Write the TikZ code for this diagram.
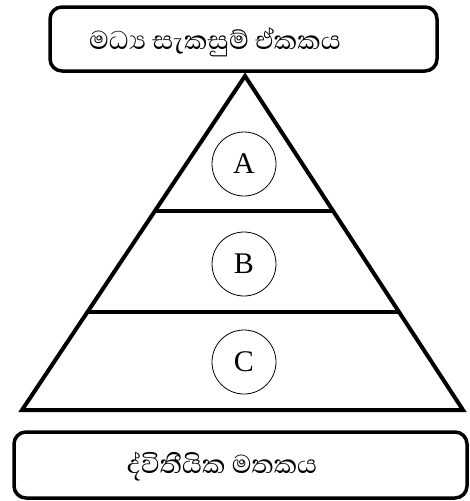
\documentclass[tikz,border=0pt]{standalone}
\usepackage{fontspec}
\setmainfont{Liberation Serif}
\newfontfamily\sinhfont[Script=Sinhala]{Abhaya Libre}
\usetikzlibrary{calc}
\begin{document}
\begin{tikzpicture}[x=1pt,y=-1pt,
  ubox/.style={draw,line width=3.5pt,rounded corners=12pt},
  edge/.style={line width=4pt},
  sin/.style={font=\sinhfont\fontsize{33}{36}\selectfont},
  lbl/.style={circle,draw,line width=0.8pt,minimum size=64pt,inner sep=0pt,font=\fontsize{30}{32}\selectfont}]
\useasboundingbox (0,0) rectangle (469,501);
% top box
\draw[ubox] (50,7) rectangle (437,71);
\node[sin] (cpu) at (215,42) {මධ්‍ය සැකසුම් ඒකකය};
% triangle
\coordinate (apex) at (245,76);
\coordinate (bl) at (22,410);
\coordinate (br) at (463,410);
\draw[edge,line join=miter] (apex) -- (bl) -- (br) -- cycle;
\coordinate (l1a) at ($(apex)!{(211-76)/(410-76)}!(bl)$);
\coordinate (l1b) at ($(apex)!{(211-76)/(410-76)}!(br)$);
\coordinate (l2a) at ($(apex)!{(312-76)/(410-76)}!(bl)$);
\coordinate (l2b) at ($(apex)!{(312-76)/(410-76)}!(br)$);
\draw[edge] (l1a) -- (l1b);
\draw[edge] (l2a) -- (l2b);
\node[lbl] (A) at (244,164) {A};
\node[lbl] (B) at (244,264) {B};
\node[lbl] (C) at (244,362) {C};
% bottom box
\draw[ubox] (14,432) rectangle (467,498);
\node[sin] (mem) at (222,467) {ද්විතීයික මතකය};
\end{tikzpicture}
\end{document}
